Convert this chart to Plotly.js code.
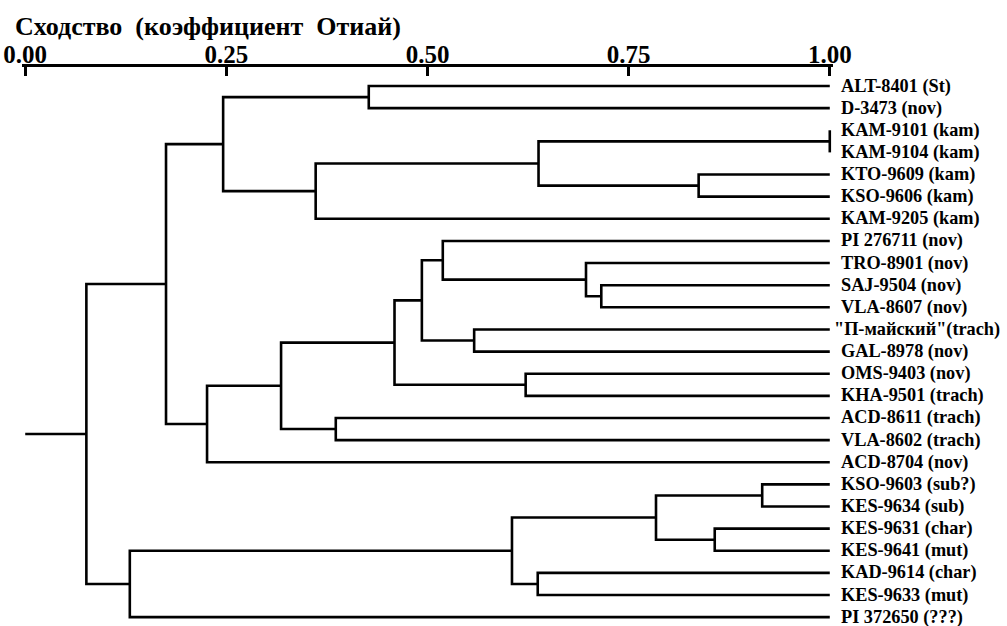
<!DOCTYPE html>
<html>
<head>
<meta charset="utf-8">
<script src="https://cdn.plot.ly/plotly-3.0.1.min.js"></script>
<style>html,body{margin:0;padding:0;background:#fff;}#chart{width:1007px;height:626px;}</style>
</head>
<body>
<div id="chart"></div>
<script>
// Leaf labels, top to bottom
var leafLabels = [
  "ALT-8401 (St)", "D-3473 (nov)", "KAM-9101 (kam)", "KAM-9104 (kam)",
  "KTO-9609 (kam)", "KSO-9606 (kam)", "KAM-9205 (kam)", "PI 276711 (nov)",
  "TRO-8901 (nov)", "SAJ-9504 (nov)", "VLA-8607 (nov)", "\"П-майский\"(trach)",
  "GAL-8978 (nov)", "OMS-9403 (nov)", "KHA-9501 (trach)", "ACD-8611 (trach)",
  "VLA-8602 (trach)", "ACD-8704 (nov)", "KSO-9603 (sub?)", "KES-9634 (sub)",
  "KES-9631 (char)", "KES-9641 (mut)", "KAD-9614 (char)", "KES-9633 (mut)",
  "PI 372650 (???)"
];
// Merge steps: children are leaf indices (L#) or earlier nodes
var mergeNames = ["A","B","C","D","E","F","G","H","I","J","K","L","M","N","O","P","Q","R","S","T","U","V","W","X"];
var mergeLeft  = ["L0","L2","L4","B","D","A","L9","L8","L7","L11","I","L13","K","L15","M","O","F","L18","L20","R","L22","T","V","Q"];
var mergeRight = ["L1","L3","L5","C","L6","E","L10","G","H","L12","J","L14","L","L16","N","L17","P","L19","L21","S","L23","U","L24","W"];
var mergeSimilarity = [0.427,1.000,0.837,0.638,0.361,0.246,0.716,0.697,0.519,0.558,0.493,0.622,0.459,0.386,0.318,0.226,0.175,0.916,0.857,0.784,0.637,0.605,0.130,0.076];
var rootSimilarity = 0.0;
var tickValues = [0, 0.25, 0.5, 0.75, 1.0];
var tickLabels = ["0.00", "0.25", "0.50", "0.75", "1.00"];

// Build tree segments
var pos = {};
leafLabels.forEach(function(l, i){ pos["L"+i] = {x: 1.0, y: i}; });
var xs = [], ys = [];
mergeNames.forEach(function(n, k){
  var a = pos[mergeLeft[k]], b = pos[mergeRight[k]], h = mergeSimilarity[k];
  xs.push(a.x, h, h, b.x, null);
  ys.push(a.y, a.y, b.y, b.y, null);
  pos[n] = {x: h, y: (a.y + b.y) / 2};
});
var root = pos[mergeNames[mergeNames.length-1]];
xs.push(rootSimilarity, root.x, null);
ys.push(root.y, root.y, null);

var serif = "Liberation Serif, Times New Roman, serif";
var trace = {
  x: xs, y: ys, type: "scatter", mode: "lines",
  line: {color: "#000", width: 2.6, shape: "linear"},
  hoverinfo: "skip", showlegend: false, connectgaps: false
};

var annotations = leafLabels.map(function(t, i){
  return {
    x: 1.0, y: i, xref: "x", yref: "y", text: t, showarrow: false,
    xanchor: "left", yanchor: "middle",
    xshift: t.charAt(0) === "\"" ? 2 : 9,
    font: {family: serif, size: 18.3, color: "#000", weight: "bold"}
  };
});

var layout = {
  width: 1007, height: 626,
  margin: {l: 22, r: 174, t: 67, b: 0, pad: 0},
  paper_bgcolor: "#fff", plot_bgcolor: "#fff",
  title: {
    text: "Сходство\u00A0 (коэффициент\u00A0 Отиай)",
    font: {family: serif, size: 26, color: "#000", weight: "bold"},
    xref: "container", x: 15/1007, xanchor: "left",
    yref: "container", y: 1 - 26/626, yanchor: "middle"
  },
  xaxis: {
    side: "top", range: [-0.004, 1.004], fixedrange: true,
    tickvals: tickValues, ticktext: tickLabels,
    ticks: "inside", ticklen: 9, tickwidth: 3, tickcolor: "#000",
    showline: true, linewidth: 3, linecolor: "#000",
    showgrid: false, zeroline: false,
    ticklabelstandoff: -9,
    tickfont: {family: serif, size: 25, color: "#000", weight: "bold"}
  },
  yaxis: {
    range: [24.4, -0.859], fixedrange: true, visible: false,
    showgrid: false, zeroline: false
  },
  annotations: annotations
};
Plotly.newPlot("chart", [trace], layout, {displayModeBar: false, staticPlot: true});
</script>
</body>
</html>
